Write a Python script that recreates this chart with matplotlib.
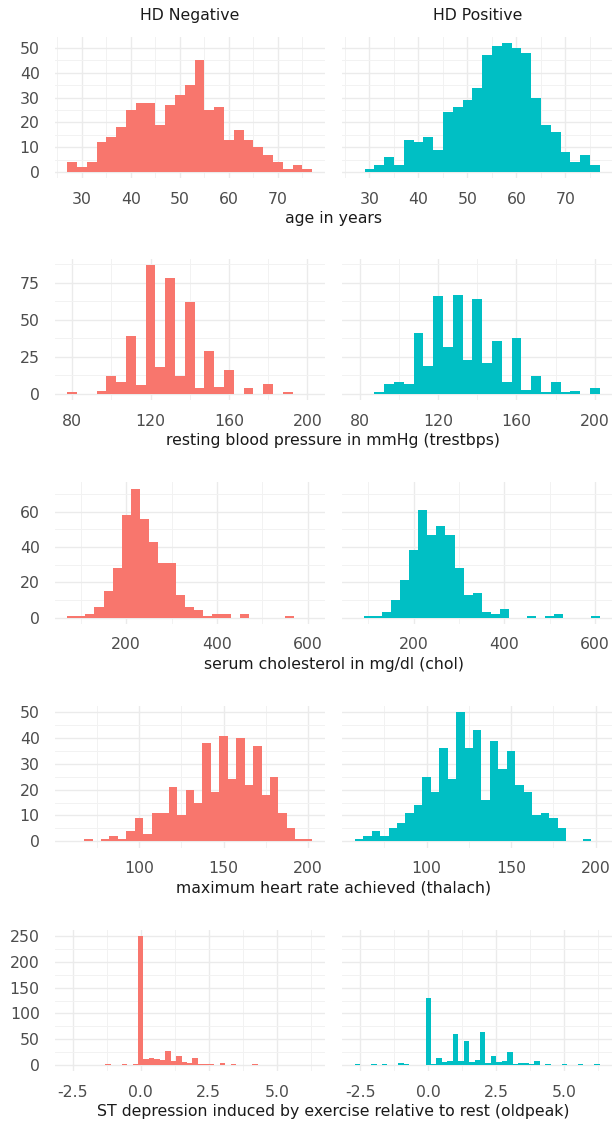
import numpy as np
import matplotlib
matplotlib.use("Agg")
import matplotlib.pyplot as plt

neg_color = "#F8766D"
pos_color = "#00BFC4"
col_titles = ["HD Negative", "HD Positive"]

# age, binwidth 2
age_start, age_width = 27, 2
age_neg = [4, 2, 4, 12, 14, 18, 25, 28, 28, 19, 27, 31, 35, 45, 25, 26, 13, 17, 13, 10, 7, 4, 1, 3, 1]
age_pos = [0, 1, 3, 6, 3, 13, 12, 14, 9, 24, 26, 29, 34, 47, 51, 52, 50, 48, 30, 19, 16, 8, 4, 7, 3]

# resting blood pressure, binwidth 5
bp_start, bp_width = 77.5, 5
bp_neg = [1, 0, 0, 2, 12, 8, 39, 6, 87, 18, 78, 12, 62, 4, 29, 5, 16, 0, 4, 0, 7, 0, 1, 0, 0]
bp_pos = [0, 0, 1, 7, 8, 7, 41, 19, 66, 32, 67, 23, 64, 21, 36, 8, 38, 3, 12, 1, 8, 1, 2, 0, 4]

# cholesterol, binwidth 20
chol_start, chol_width = 70, 20
chol_neg = [1, 1, 2, 6, 15, 28, 58, 73, 56, 43, 31, 31, 13, 6, 4, 1, 2, 2, 0, 2, 0, 0, 0, 0, 1, 0, 0]
chol_pos = [0, 1, 1, 3, 10, 21, 38, 61, 47, 52, 47, 28, 13, 14, 3, 2, 5, 0, 0, 1, 0, 1, 2, 0, 0, 0, 1]

# max heart rate, binwidth 5
hr_start, hr_width = 57.5, 5
hr_neg = [0, 0, 1, 0, 1, 2, 1, 4, 9, 3, 11, 11, 21, 10, 20, 15, 38, 19, 41, 24, 40, 22, 37, 18, 25, 11, 5, 1, 1]
hr_pos = [1, 2, 4, 2, 5, 7, 11, 14, 25, 19, 36, 24, 50, 36, 43, 16, 39, 28, 35, 22, 19, 10, 11, 9, 5, 0, 0, 1, 0]

# oldpeak, binwidth 0.2
op_start, op_width = -2.7, 0.2
op_neg = [0, 0, 0, 0, 0, 0, 0, 1, 0, 0, 1, 0, 1, 250, 12, 14, 12, 9, 27, 8, 18, 6, 3, 13, 2, 1, 1, 0, 4,
          0, 1, 0, 0, 0, 1, 0, 0, 0, 0, 0, 0, 0, 0, 0, 0]
op_pos = [1, 0, 0, 1, 0, 1, 0, 0, 3, 2, 0, 0, 0, 130, 1, 13, 5, 8, 60, 8, 46, 5, 10, 64, 4, 18, 5, 7, 25,
          2, 3, 3, 1, 8, 0, 1, 0, 0, 1, 0, 0, 1, 0, 0, 1]

rows = [
    ("age in years", age_start, age_width, age_neg, age_pos,
     [30, 40, 50, 60, 70], [25, 35, 45, 55, 65, 75], [0, 10, 20, 30, 40, 50], [5, 15, 25, 35, 45]),
    ("resting blood pressure in mmHg (trestbps)", bp_start, bp_width, bp_neg, bp_pos,
     [80, 120, 160, 200], [100, 140, 180], [0, 25, 50, 75], [12.5, 37.5, 62.5, 87.5]),
    ("serum cholesterol in mg/dl (chol)", chol_start, chol_width, chol_neg, chol_pos,
     [200, 400, 600], [100, 300, 500], [0, 20, 40, 60], [10, 30, 50, 70]),
    ("maximum heart rate achieved (thalach)", hr_start, hr_width, hr_neg, hr_pos,
     [100, 150, 200], [75, 125, 175], [0, 10, 20, 30, 40, 50], [5, 15, 25, 35, 45]),
    ("ST depression induced by exercise relative to rest (oldpeak)", op_start, op_width, op_neg, op_pos,
     [-2.5, 0.0, 2.5, 5.0], [-1.25, 1.25, 3.75, 6.25], [0, 50, 100, 150, 200, 250], [25, 75, 125, 175, 225]),
]

W, H = 613, 1126
fig = plt.figure(figsize=(W / 100, H / 100), dpi=100)
fs = 11.3

panel_x = [55, 342.5]
panel_w = 269.5
panel_top = [36.6, 258.6, 482.2, 705.9, 929.6]
panel_h = 141.8

for r, (label, start, width, neg, pos, xt, xm, yt, ym) in enumerate(rows):
    edges = start + width * np.arange(len(neg) + 1)
    span = edges[-1] - edges[0]
    xlim = (edges[0] - 0.05 * span, edges[-1] + 0.05 * span)
    ymax = max(max(neg), max(pos))
    ylim = (-0.05 * ymax, 1.05 * ymax)
    for c, (counts, color) in enumerate([(neg, neg_color), (pos, pos_color)]):
        ax = fig.add_axes([panel_x[c] / W, 1 - (panel_top[r] + panel_h) / H, panel_w / W, panel_h / H])
        ax.hist(edges[:-1], bins=edges, weights=counts, color=color, zorder=2)
        ax.set_xlim(xlim)
        ax.set_ylim(ylim)
        ax.set_xticks(xt)
        ax.set_xticks(xm, minor=True)
        ax.set_yticks(yt)
        ax.set_yticks(ym, minor=True)
        if r == 4:
            ax.set_xticklabels([f"{v:.1f}" for v in xt])
        ax.grid(which="major", color="#EBEBEB", lw=1.0, zorder=0)
        ax.grid(which="minor", color="#F2F2F2", lw=0.7, zorder=0)
        ax.set_axisbelow(True)
        for s in ax.spines.values():
            s.set_visible(False)
        ax.tick_params(which="both", length=0, labelsize=fs, labelcolor="#4D4D4D")
        ax.tick_params(axis="x", pad=9.5)
        ax.tick_params(axis="y", pad=11)
        if c == 1:
            ax.set_yticklabels([])
        if r == 0:
            ax.set_title(col_titles[c], fontsize=fs, pad=12, color="#1A1A1A")
    fig.text(333.5 / W, 1 - (panel_top[r] + panel_h + 40) / H, label,
             ha="center", va="center", fontsize=fs, color="#1A1A1A")

fig.savefig("out.png", dpi=100)
